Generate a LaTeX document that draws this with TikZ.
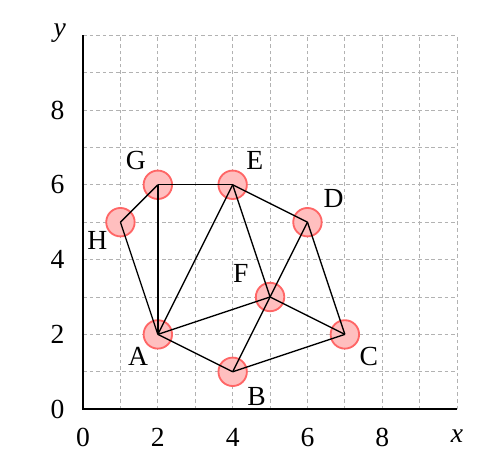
\documentclass[tikz,border=0pt]{standalone}
\usepackage{fontspec}
\setmainfont{Liberation Serif}
\begin{document}
\begin{tikzpicture}[x=1cm,y=1cm,
  gridline/.style={draw=gray!60, line width=0.6pt, dash pattern=on 2.8pt off 2.2pt},
  axisline/.style={draw=black, line width=1.8pt},
  vtx/.style={circle, minimum size=0.76cm, inner sep=0pt, fill=red!25, draw=red!60, line width=1.4pt},
  edge/.style={draw=black, line width=1pt},
  lbl/.style={font=\fontsize{21}{24}\selectfont, inner sep=0pt},
  tick/.style={font=\fontsize{21}{24}\selectfont, inner sep=0pt}]
\useasboundingbox (-2.22,-1.66) rectangle (10.88,10.94);
% grid
\foreach \i in {1,...,10} {
  \draw[gridline] (\i,0) -- (\i,10);
  \draw[gridline] (0,\i) -- (10,\i);
}
% axes
\coordinate (O) at (0,0);
\coordinate (XE) at (10,0);
\coordinate (YE) at (0,10);
\draw[axisline] (XE) -- (O) -- (YE);
% ticks
\foreach \v in {0,2,4,6,8} {
  \node[tick] (xt\v) at (\v,-0.75) {\v};
}
\foreach \v in {0,2,4,6,8} {
  \node[tick] (yt\v) at (-0.68,\v) {\v};
}
\node[tick] (xl) at (10.0,-0.72) {\textit{x}};
\node[tick] (yl) at (-0.62,10.05) {\textit{y}};
% vertices
\node[vtx] (A) at (2,2) {};
\node[vtx] (B) at (4,1) {};
\node[vtx] (C) at (7,2) {};
\node[vtx] (D) at (6,5) {};
\node[vtx] (E) at (4,6) {};
\node[vtx] (F) at (5,3) {};
\node[vtx] (G) at (2,6) {};
\node[vtx] (H) at (1,5) {};
% edges
\foreach \a/\b in {G/E, G/H, G/A, H/A, E/A, E/F, E/D, D/F, D/C, F/A, F/C, A/B, B/F, B/C} {
  \draw[edge] (\a.center) -- (\b.center);
}
% labels
\node[lbl] (lA) at (1.47,1.41) {A};
\node[lbl] (lB) at (4.64,0.33) {B};
\node[lbl] (lC) at (7.64,1.41) {C};
\node[lbl] (lD) at (6.7,5.64) {D};
\node[lbl] (lE) at (4.59,6.64) {E};
\node[lbl] (lF) at (4.22,3.62) {F};
\node[lbl] (lG) at (1.41,6.64) {G};
\node[lbl] (lH) at (0.38,4.5) {H};
\end{tikzpicture}
\end{document}
